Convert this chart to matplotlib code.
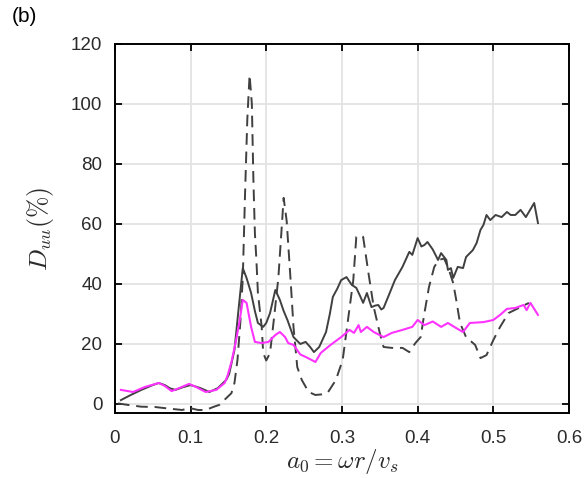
import matplotlib
matplotlib.use("Agg")
import matplotlib.pyplot as plt

# Solid dark curve
solid_x = [0.008, 0.021, 0.035, 0.05, 0.058, 0.066, 0.073, 0.08, 0.09, 0.1, 0.107, 0.113, 0.125,
           0.136, 0.147, 0.151, 0.158, 0.164, 0.169, 0.174, 0.18, 0.185, 0.189, 0.196, 0.2, 0.205,
           0.212, 0.218, 0.223, 0.228, 0.236, 0.245, 0.252, 0.258, 0.263, 0.27, 0.279, 0.284,
           0.288, 0.294, 0.299, 0.306, 0.313, 0.319, 0.324, 0.328, 0.333, 0.339, 0.344, 0.348,
           0.352, 0.355, 0.362, 0.37, 0.375, 0.38, 0.389, 0.393, 0.4, 0.405, 0.409, 0.413, 0.42,
           0.427, 0.431, 0.438, 0.44, 0.444, 0.447, 0.453, 0.46, 0.464, 0.473, 0.478, 0.483,
           0.487, 0.491, 0.496, 0.503, 0.511, 0.518, 0.523, 0.529, 0.536, 0.543, 0.554, 0.559]
solid_y = [1.3, 3, 4.7, 6.3, 7, 6.3, 5.2, 4.7, 5.6, 6.3, 5.8, 5.3, 4,
           5.3, 8, 10, 18, 33, 45.3, 42, 37, 31, 27, 25.7, 27, 30.3,
           38, 34.7, 31, 28, 22.3, 20, 20.7, 19, 17.3, 19, 24, 30,
           35.7, 38.5, 41.3, 42.3, 39.7, 38.7, 36, 33.7, 37, 32.3, 32.8, 33,
           31.5, 32, 36.3, 41.3, 43.5, 45.7, 50.7, 49.7, 55.3, 52.5, 53, 54, 51.5,
           48, 50.3, 48, 44.7, 45.3, 42, 45.7, 45.3, 49, 51.3, 53.7, 58,
           59.7, 63, 61.3, 63, 62.3, 64, 63, 63, 64.7, 62.3, 67, 60.3]

# Dashed dark curve
dash_x = [0.004, 0.017, 0.035, 0.053, 0.07, 0.089, 0.098, 0.11, 0.12, 0.131, 0.138, 0.149, 0.154,
          0.158, 0.162, 0.166, 0.169, 0.172, 0.175, 0.178, 0.181, 0.183, 0.185, 0.187, 0.189,
          0.194, 0.196, 0.2, 0.205, 0.21, 0.216, 0.221, 0.223, 0.227, 0.232, 0.236, 0.241, 0.247,
          0.256, 0.265, 0.273, 0.281, 0.292, 0.301, 0.308, 0.315, 0.319, 0.323, 0.328, 0.335,
          0.342, 0.35, 0.355, 0.366, 0.38, 0.389, 0.397, 0.404, 0.409, 0.415, 0.422, 0.428,
          0.435, 0.441, 0.447, 0.451, 0.456, 0.464, 0.476, 0.483, 0.491, 0.5, 0.509, 0.52,
          0.536, 0.547]
dash_y = [0.2, -0.3, -0.9, -1, -1.5, -2, -1.3, -2, -2, -0.9, -0.3, 2.4, 3.6,
          7, 14.7, 28, 42, 70, 95, 109.7, 100, 75, 57, 48, 37,
          25.7, 17, 14.5, 17, 28, 42, 61, 68.7, 61, 42, 25.7, 12.3, 8,
          4, 3, 3.2, 3.7, 8, 14.7, 28, 41.3, 55.7, 56.3, 55.7, 43.7,
          32.3, 23.7, 19, 18.7, 18.7, 17.3, 20.3, 22.3, 30.3, 39, 45.7, 48,
          48.5, 45, 40.3, 34.7, 27, 22.3, 19.7, 15.3, 16.3, 21.3, 25.7, 30.3,
          32.3, 33.7]

# Magenta curve
mag_x = [0.008, 0.024, 0.04, 0.058, 0.066, 0.075, 0.085, 0.098, 0.107, 0.12, 0.134, 0.145, 0.149,
         0.154, 0.16, 0.165, 0.169, 0.174, 0.18, 0.185, 0.194, 0.203, 0.212, 0.218, 0.225, 0.229,
         0.236, 0.245, 0.252, 0.265, 0.272, 0.285, 0.299, 0.31, 0.316, 0.322, 0.325, 0.333, 0.342,
         0.355, 0.366, 0.38, 0.393, 0.4, 0.409, 0.42, 0.431, 0.44, 0.451, 0.46, 0.469, 0.487,
         0.5, 0.509, 0.518, 0.529, 0.54, 0.544, 0.549, 0.559]
mag_y = [4.7, 4, 5.7, 7, 6, 4.3, 5.3, 6.7, 5.7, 4, 4.7, 7, 9.5,
         14, 21, 28, 34.7, 33.7, 25.7, 20.7, 20.3, 20.7, 23, 24, 22.3, 20.3,
         19.7, 16.5, 15.7, 14, 17, 19.7, 22.3, 24.7, 23.7, 26.3, 24, 25.7, 24,
         22.3, 23.7, 24.7, 25.7, 28, 26.3, 27.5, 25.7, 27, 25.3, 24, 27, 27.3,
         28, 29.7, 31.7, 32, 33, 31.3, 33.7, 29.7]

x_ticks = [0, 0.1, 0.2, 0.3, 0.4, 0.5, 0.6]
x_tick_labels = ["0", "0.1", "0.2", "0.3", "0.4", "0.5", "0.6"]
y_ticks = [0, 20, 40, 60, 80, 100, 120]
y_tick_labels = ["0", "20", "40", "60", "80", "100", "120"]

plt.rcParams["font.family"] = ["Liberation Sans", "DejaVu Sans"]
plt.rcParams["mathtext.fontset"] = "cm"

fig = plt.figure(figsize=(5.86, 4.78), dpi=100)
ax = fig.add_axes([0.196, 0.136, 0.775, 0.772])

dark = "#404040"
ax.plot(dash_x, dash_y, color=dark, lw=1.4, dashes=(6, 3.5))
ax.plot(solid_x, solid_y, color=dark, lw=1.4)
ax.plot(mag_x, mag_y, color="#ff33ff", lw=1.5)

ax.set_xlim(0, 0.6)
ax.set_ylim(-3, 120)
ax.set_xticks(x_ticks)
ax.set_xticklabels(x_tick_labels)
ax.set_yticks(y_ticks)
ax.set_yticklabels(y_tick_labels)
ax.grid(True, color="#e3e3e3", lw=1.3)
ax.set_axisbelow(True)

ax.tick_params(direction="in", length=5, width=1.3, top=True, right=True,
               labelsize=13.5, labelcolor="#2b2b2b")
ax.tick_params(axis="x", pad=12)
ax.tick_params(axis="y", pad=9)
for s in ax.spines.values():
    s.set_linewidth(1.4)

ax.set_xlabel(r"$a_0 = \omega r / v_s$", fontsize=18, color="#2b2b2b", labelpad=0)
ax.set_ylabel(r"$D_{uu}(\%)$", fontsize=18.5, color="#2b2b2b", labelpad=11)

fig.text(0.02, 0.985, "(b)", fontsize=15, va="top", ha="left")

fig.savefig("out.png", dpi=100)
